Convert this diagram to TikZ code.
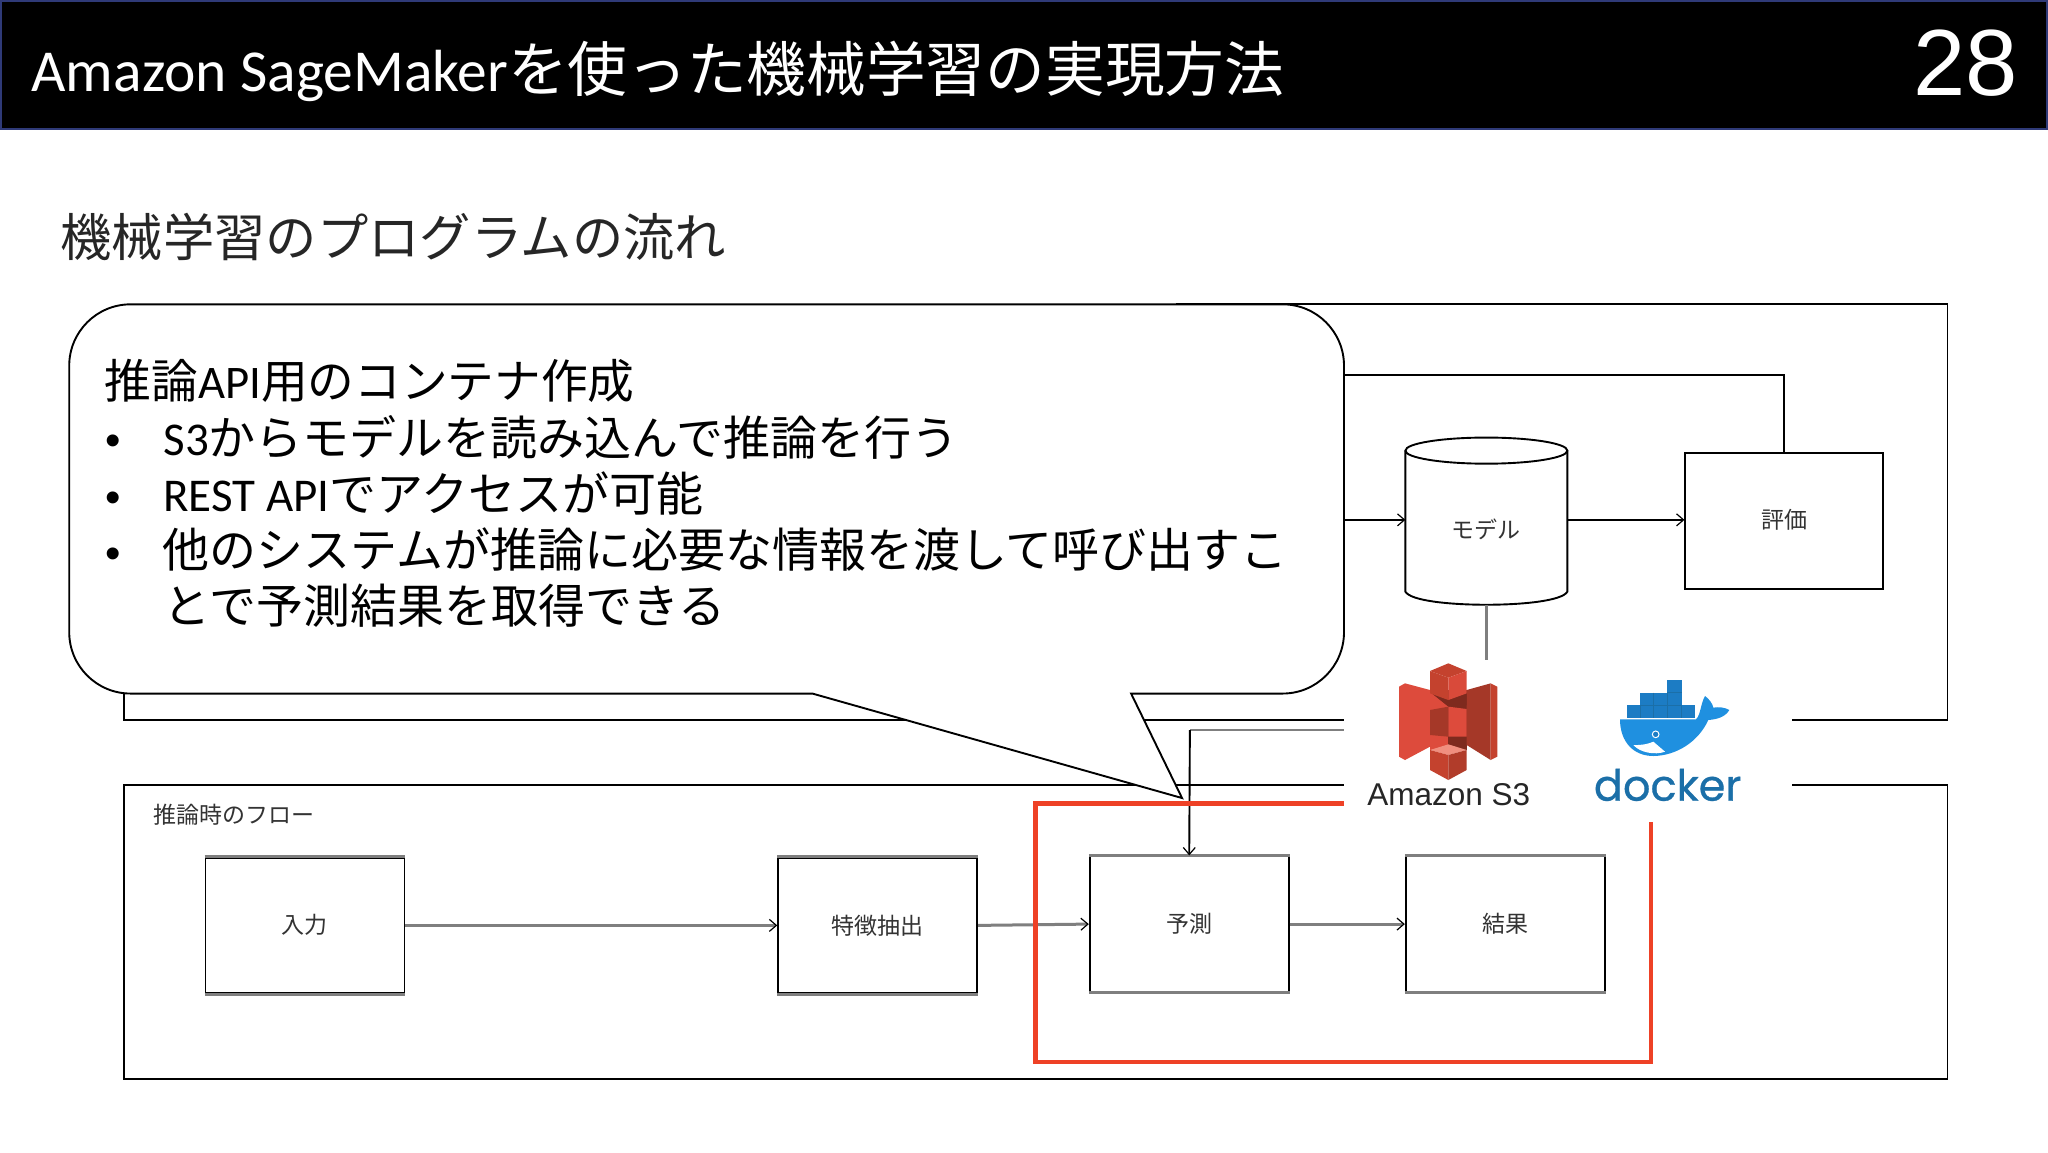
\documentclass[tikz,border=0pt]{standalone}
\usepackage{fontspec}
\setmainfont{Carlito}
\newfontfamily\jp{Noto Sans CJK JP}
\newfontfamily\arialf{Liberation Sans}
\newfontfamily\dockerf[FakeBold=0.7]{Poppins}
\usetikzlibrary{arrows.meta,calc}
\definecolor{redbox}{HTML}{EE4126}
\definecolor{inkgray}{HTML}{333333}
\definecolor{edgegray}{HTML}{7F7F7F}
\definecolor{navyedge}{HTML}{2F3A78}
\definecolor{dockblue}{HTML}{1F90E0}
\definecolor{dockbox}{HTML}{1C7CC4}
\definecolor{dockdark}{HTML}{1B6FA8}
\definecolor{sThreeLight}{HTML}{DD4B3C}
\definecolor{sThreeMid}{HTML}{C4422E}
\definecolor{sThreeDark}{HTML}{A53828}
\definecolor{sThreeDeep}{HTML}{7E2A1E}
\definecolor{sThreePink}{HTML}{F08F7F}
\tikzset{
  px/.style={x=1.30612pt,y=-1.30612pt},
  titletext/.style={anchor=base west,inner sep=0pt,text=white,font=\fontsize{59.5}{60}\selectfont},
  subtext/.style={anchor=base west,inner sep=0pt,text=black!85,font=\jp\fontsize{51.3}{54}\selectfont},
  bubbletext/.style={anchor=base west,inner sep=0pt,text=black,font=\fontsize{47}{50}\selectfont},
  bulletmark/.style={anchor=base,inner sep=0pt,text=black,font=\arialf\fontsize{44}{46}\selectfont},
  frameline/.style={draw=black,line width=1.9pt},
  flowbox/.style={draw=black,line width=1.9pt,fill=white,rectangle,minimum width=199pt,minimum height=135.5pt,inner sep=0pt,text=inkgray,font=\jp\fontsize{23}{25}\selectfont},
  smalllabel/.style={inner sep=0pt,text=inkgray,font=\jp\fontsize{23}{25}\selectfont},
  flowarrow/.style={line width=1.9pt,draw=black,-{Straight Barb[length=7pt,width=12pt,line width=1.2pt]}},
  grayarrow/.style={line width=3pt,draw=edgegray,-{Straight Barb[length=7pt,width=12pt,line width=1.2pt,color=black]}},
  grayedge/.style={draw=edgegray,line width=3pt},
}
\begin{document}
\begin{tikzpicture}[px]
\useasboundingbox (0,0) rectangle (1568,882);
\fill[white] (0,0) rectangle (1568,882);
% header
\draw[fill=black,draw=navyedge,line width=2pt] (0.7,0.7) rectangle (1567.3,98.5);
\node[titletext] (title) at (24,70) {Amazon SageMaker{\jp\fontsize{59.7}{60}\selectfont を使った機械学習の実現方法}};
\node[inner sep=0pt,text=white,font=\arialf\fontsize{94}{94}\selectfont] (pageno) at (1505,48) {28};
\node[subtext] (sub) at (46.3,196) {機械学習のプログラムの流れ};
% frames
\draw[frameline] (95,525) -- (95,551) -- (1491,551) -- (1491,233) -- (900,233);
\draw[frameline] (95,601) rectangle (1491,826);
\node[smalllabel,anchor=west] (flowlabel) at (117,624) {推論時のフロー};
% upper flow
\node[flowbox,minimum width=197.5pt,minimum height=136.5pt] (eval) at (1366,399) {\raisebox{5pt}{評価}};
\node[rectangle,minimum width=162pt,minimum height=167pt,inner sep=0pt] (model) at (1138,399) {};
\draw[line width=1.9pt,fill=white] (1076,345) -- (1076,453) .. controls (1080,460) and (1110,463) .. (1138,463) .. controls (1166,463) and (1196,460) .. (1200,453) -- (1200,345);
\draw[line width=1.9pt,fill=white] (1138,345) ellipse [x radius=62,y radius=10];
\node[smalllabel] (modeltext) at (1137.5,405) {モデル};
\coordinate (trainout) at (1020,398);
\coordinate (evalback) at (1020,287);
\coordinate (s3in) at (1040,559);
\coordinate (s3link) at (1138,510);
\draw[flowarrow] (trainout) -- (1076,398);
\draw[flowarrow] (1200,398) -- (eval.west |- 0,398);
\draw[frameline] (eval.north) |- (evalback);
\draw[draw=edgegray,line width=3pt] (1138,463) -- (s3link);
% lower flow
\node[flowbox] (input) at (233.5,708.5) {\raisebox{3pt}{入力}};
\node[flowbox] (feat) at (672,708.5) {特徴抽出};
\node[flowbox] (pred) at (910.5,707.5) {\raisebox{3pt}{予測}};
\node[flowbox] (result) at (1152.5,707.5) {\raisebox{3pt}{結果}};
\foreach \b in {input,feat,pred,result}{
  \draw[grayedge] (\b.north west) -- (\b.north east);
  \draw[grayedge] (\b.south west) -- (\b.south east);
}
\draw[grayarrow] (input) -- (feat);
\draw[grayarrow] (feat.east) -- (pred.west);
\draw[grayarrow] (pred) -- (result);
\draw[draw=edgegray,line width=2.4pt] (s3in) -- (911,559);
\draw[flowarrow] (911,559) -- (pred.north);
% red box
\draw[draw=redbox,line width=4.6pt,line join=miter] (1264,620) -- (1264,813) -- (793,813) -- (793,615) -- (1040,615);
% bubble
\draw[draw=black,fill=white,line width=1.9pt]
  (100,233) -- (982,233) arc[start angle=-90,end angle=0,radius=47]
  -- (1029,484) arc[start angle=0,end angle=90,radius=47]
  -- (866,531) -- (905,611) -- (622,531) -- (100,531)
  arc[start angle=90,end angle=180,radius=47] -- (53,280)
  arc[start angle=180,end angle=270,radius=47] -- cycle;
\node[bubbletext,font=\fontsize{46.7}{50}\selectfont] (b1) at (80,305) {{\jp 推論}API{\jp 用のコンテナ作成}};
\node[bulletmark] (d1) at (87,349) {•};
\node[bubbletext] (b2) at (125,348.5) {S3{\jp からモデルを読み込んで推論を行う}};
\node[bulletmark] (d2) at (87,392) {•};
\node[bubbletext] (b3) at (125,391.5) {REST API{\jp でアクセスが可能}};
\node[bulletmark] (d3) at (87,435) {•};
\node[bubbletext] (b4) at (124.5,434.5) {\jp 他のシステムが推論に必要な情報を渡して呼び出すこ};
\node[bubbletext] (b5) at (125,477.5) {\jp とで予測結果を取得できる};
% logo mask
\fill[white] (1029,505) rectangle (1372,629);
% logos, drawn in the 3x coordinates of the logo area
\begin{scope}[x=0.33333pt,y=-0.33333pt,shift={(1280pt,-640pt)}]
  % S3
  \fill[sThreeLight] (450,150) rectangle (505,330);
  \fill[sThreeDeep] (505,150) rectangle (560,330);
  \fill[sThreeLight] (357,140) -- (375,130) -- (450,150) -- (450,320) -- (375,360) -- (357,350) -- cycle;
  \fill[sThreeDark] (560,150) -- (632,130) -- (632,360) -- (560,315) -- cycle;
  \fill[sThreeMid] (632,130) -- (652,140) -- (652,350) -- (632,360) -- cycle;
  \fill[sThreeDeep] (455,160) -- (505,178) -- (560,155) -- (560,195) -- (505,200) -- cycle;
  \fill[sThreeMid] (450,93) -- (505,70) -- (560,93) -- (505,113) -- cycle;
  \fill[sThreeMid] (450,93) -- (505,113) -- (505,180) -- (450,160) -- cycle;
  \fill[sThreeLight!85!sThreeMid] (560,93) -- (505,113) -- (505,180) -- (560,160) -- cycle;
  \fill[sThreeDark] (450,210) -- (505,200) -- (505,290) -- (450,285) -- cycle;
  \fill[sThreeLight] (505,200) -- (560,207) -- (560,290) -- (505,290) -- cycle;
  \fill[sThreePink] (450,330) -- (505,313) -- (560,330) -- (505,345) -- cycle;
  \fill[sThreeMid] (450,330) -- (505,345) -- (505,420) -- (450,390) -- cycle;
  \fill[sThreeDark!60!sThreeMid] (560,330) -- (505,345) -- (505,420) -- (560,390) -- cycle;
  \node[inner sep=0pt,anchor=base,text=black!85,font=\arialf\fontsize{31.5}{33}\selectfont] (s3text) at (506,495) {Amazon S3};
  % whale
  \fill[dockblue] (1020,238) -- (1248,238) .. controls (1262,225) and (1262,190) .. (1275,168)
     .. controls (1285,175) and (1298,190) .. (1300,203) .. controls (1315,200) and (1335,202) .. (1348,210)
     .. controls (1335,232) and (1310,238) .. (1285,240)
     .. controls (1255,305) and (1190,347) .. (1120,348)
     .. controls (1060,348) and (1020,305) .. (1020,238) -- cycle;
  \fill[white] (1060,315) .. controls (1085,316) and (1105,312) .. (1120,305) -- (1155,335) .. controls (1125,346) and (1080,338) .. (1060,315) -- cycle;
  \fill[dockbox] (1040,196) rectangle (1245,234);
  \fill[dockbox] (1080,158) rectangle (1205,196);
  \fill[dockbox] (1162,120) rectangle (1205,158);
  \foreach \gx in {1080,1121,1162,1205}{\draw[dockdark,line width=0.5pt] (\gx,196) -- (\gx,233);}
  \foreach \gx in {1121,1162}{\draw[dockdark,line width=0.5pt] (\gx,158) -- (\gx,196);}
  \draw[dockdark,line width=0.5pt] (1080,196) -- (1205,196);
  \draw[dockdark,line width=0.5pt] (1162,158) -- (1205,158);
  \draw[white,fill=dockbox,line width=1pt] (1127,283) circle (10);
  \node[inner sep=0pt,anchor=base,text=dockdark,font=\dockerf\fontsize{43}{46}\selectfont] (dockertext) at (1163,482) {docker};
\end{scope}
\end{tikzpicture}
\end{document}
